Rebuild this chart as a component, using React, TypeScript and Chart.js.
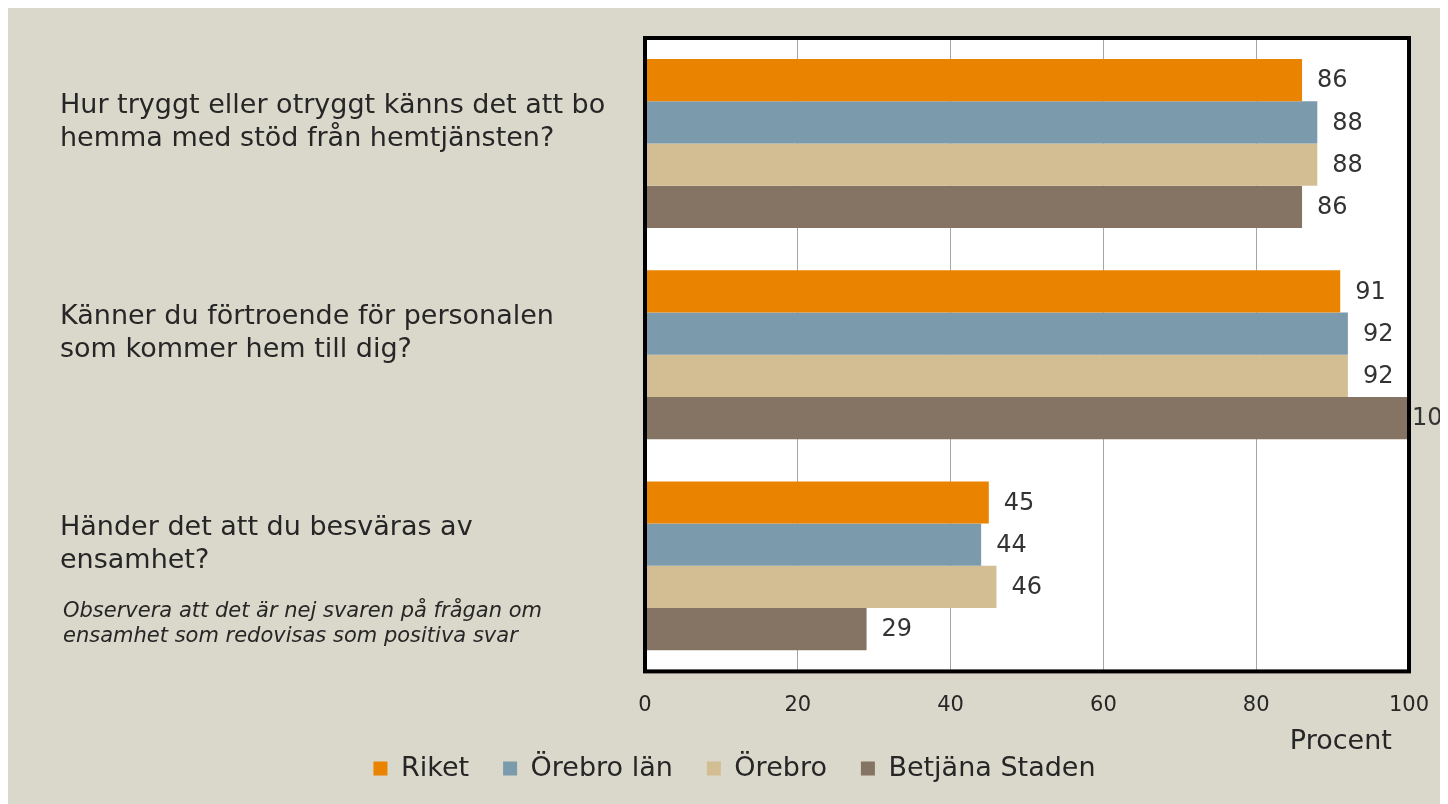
import React, { useEffect, useRef } from "react";
import { Chart, registerables } from "chart.js";

Chart.register(...registerables);

const categories: string[][] = [
  ["Hur tryggt eller otryggt känns det att bo", "hemma med stöd från hemtjänsten?"],
  ["Känner du förtroende för personalen", "som kommer hem till dig?"],
  ["Händer det att du besväras av", "ensamhet?"],
];
const noteLines = [
  "Observera att det är nej svaren på frågan om",
  "ensamhet som redovisas som positiva svar",
];
const seriesNames = ["Riket", "Örebro län", "Örebro", "Betjäna Staden"];
const riket = [86, 91, 45];
const orebroLan = [88, 92, 44];
const orebro = [88, 92, 46];
const betjana = [86, 100, 29];
const xTicks = [0, 20, 40, 60, 80, 100];
const axisTitle = "Procent";

const colors = ["#E98300", "#7B9AAB", "#D3BE94", "#857463"];
const FONT = "'DejaVu Sans', sans-serif";
const TEXT = "#262626";

const framePlugin = {
  id: "frame",
  beforeDraw(chart: any) {
    const { ctx, chartArea: a } = chart;
    ctx.save();
    ctx.fillStyle = "#FFFFFF";
    ctx.fillRect(a.left, a.top, a.right - a.left, a.bottom - a.top);
    ctx.restore();
  },
  afterDatasetsDraw(chart: any) {
    const { ctx, chartArea: a } = chart;
    ctx.save();
    ctx.strokeStyle = "#000000";
    ctx.lineWidth = 4;
    ctx.strokeRect(a.left, a.top, a.right - a.left, a.bottom - a.top);
    ctx.font = `24px ${FONT}`;
    ctx.fillStyle = "#333333";
    ctx.textAlign = "left";
    ctx.textBaseline = "middle";
    chart.data.datasets.forEach((ds: any, i: number) => {
      const meta = chart.getDatasetMeta(i);
      meta.data.forEach((el: any, j: number) => {
        const txt = String(ds.data[j]);
        let x = el.x + 15;
        if (x > a.right) x = a.right + 3;
        ctx.fillText(txt, x, el.y + 1);
      });
    });
    ctx.restore();
  },
  afterDraw(chart: any) {
    const { ctx } = chart;
    ctx.save();
    ctx.font = `italic 21px ${FONT}`;
    ctx.fillStyle = TEXT;
    ctx.textAlign = "left";
    ctx.textBaseline = "middle";
    noteLines.forEach((l, i) => ctx.fillText(l, 55, 604 + i * 25));
    ctx.restore();
  },
};

export default function App() {
  const ref = useRef<HTMLCanvasElement>(null);
  useEffect(() => {
    if (!ref.current) return;
    const data = [riket, orebroLan, orebro, betjana];
    const chart = new Chart(ref.current, {
      type: "bar",
      data: {
        labels: categories,
        datasets: seriesNames.map((n, i) => ({
          label: n,
          data: data[i],
          backgroundColor: colors[i],
          borderWidth: 0,
          categoryPercentage: 0.8,
          barPercentage: 1.0,
        })),
      },
      options: {
        indexAxis: "y",
        animation: false,
        responsive: false,
        layout: { padding: { left: 52, top: 30, right: 39, bottom: 12 } },
        plugins: {
          tooltip: { enabled: false },
          legend: {
            position: "bottom",
            labels: {
              boxWidth: 14,
              boxHeight: 14,
              padding: 34,
              color: TEXT,
              font: { family: FONT, size: 27 },
            },
          },
        },
        scales: {
          x: {
            min: 0,
            max: 100,
            afterBuildTicks: (s: any) => {
              s.ticks = xTicks.map((v) => ({ value: v }));
            },
            afterFit: (s: any) => {
              s.paddingLeft = 0;
              s.paddingRight = 0;
            },
            grid: { color: "#A6A6A6", lineWidth: 1, drawTicks: false },
            border: { display: false },
            ticks: {
              color: TEXT,
              padding: 22,
              font: { family: FONT, size: 21 },
            },
            title: {
              display: true,
              text: axisTitle + "  ",
              align: "end",
              color: TEXT,
              font: { family: FONT, size: 27 },
              padding: { top: -15, bottom: -37 },
            },
          },
          y: {
            afterFit: (s: any) => {
              s.width = 585;
              s.paddingTop = 0;
              s.paddingBottom = 0;
            },
            grid: { display: false, drawTicks: false },
            border: { display: false },
            ticks: {
              crossAlign: "far",
              labelOffset: -21,
              padding: 0,
              color: TEXT,
              font: { family: FONT, size: 27, lineHeight: 1.22 },
            },
          },
        },
      },
      plugins: [framePlugin],
    });
    return () => chart.destroy();
  }, []);
  return (
    <div style={{ width: 1440, height: 796, background: "#DAD8CB" }}>
      <canvas ref={ref} width={1440} height={796} />
    </div>
  );
}
